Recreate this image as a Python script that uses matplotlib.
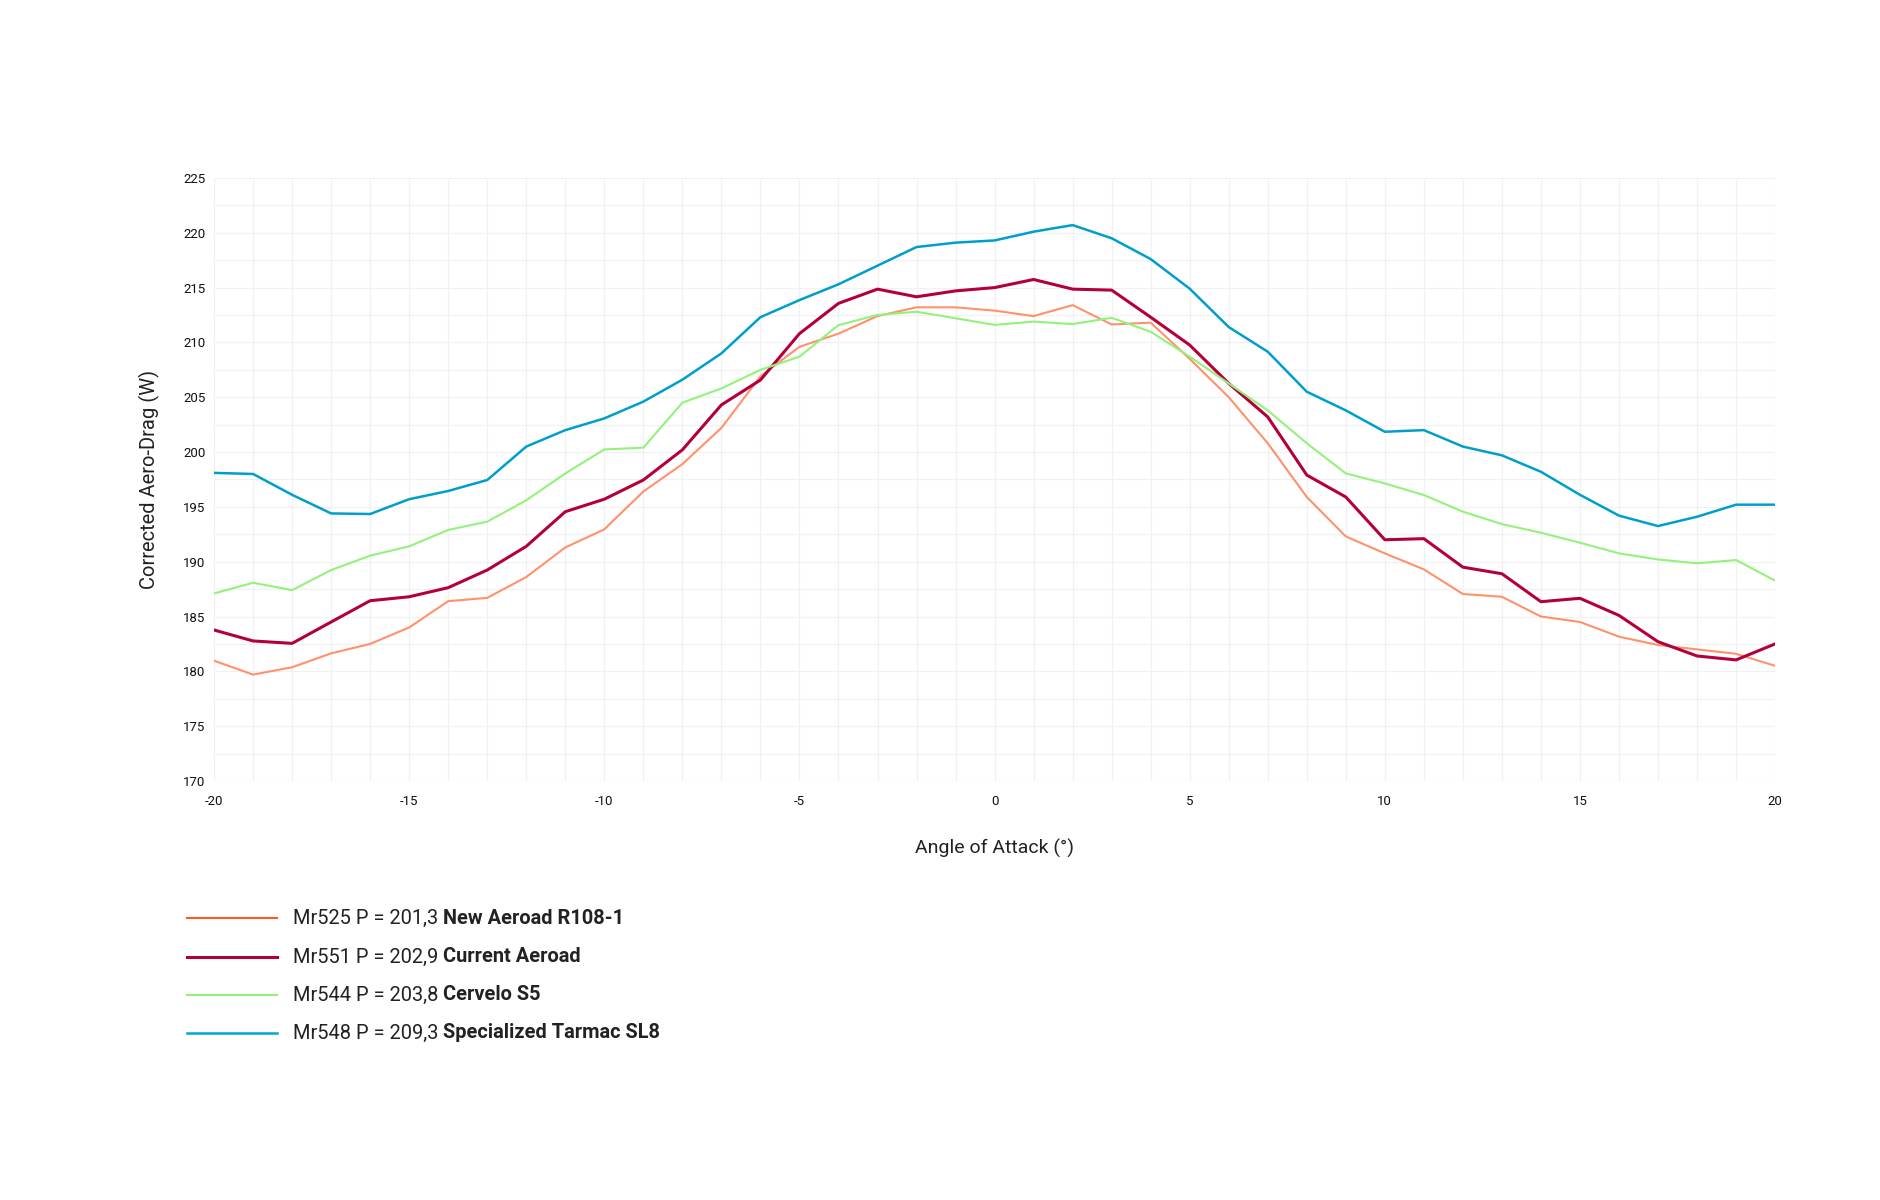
import matplotlib.pyplot as plt
from matplotlib.lines import Line2D
from matplotlib.ticker import MultipleLocator

plt.rcParams['font.family'] = ['Roboto', 'DejaVu Sans']
plt.rcParams['axes.unicode_minus'] = False

# angle of attack, one reading per degree
angles = list(range(-20, 21))

drag_r108 = [180.97, 179.7, 180.37, 181.64, 182.5, 184.0, 186.4, 186.7, 188.6, 191.3,
             192.95, 196.4, 198.9, 202.2, 206.9, 209.6, 210.8, 212.4, 213.2, 213.2,
             212.9,
             212.4, 213.4, 211.64, 211.8, 208.5, 205.0, 200.8, 195.9, 192.3, 190.76,
             189.3, 187.05, 186.8, 185.0, 184.5, 183.16, 182.4, 182.0, 181.6, 180.5]
drag_current = [183.77, 182.77, 182.55, 184.5, 186.44, 186.8, 187.63, 189.24, 191.4, 194.56,
                195.7, 197.45, 200.2, 204.3, 206.57, 210.8, 213.56, 214.86, 214.16, 214.7,
                215.0,
                215.74, 214.86, 214.77, 212.3, 209.76, 206.26, 203.2, 197.9, 195.9, 192.0,
                192.1, 189.5, 188.9, 186.35, 186.66, 185.1, 182.7, 181.4, 181.04, 182.5]
drag_s5 = [187.1, 188.08, 187.4, 189.24, 190.55, 191.4, 192.9, 193.65, 195.6, 198.05,
           200.24, 200.4, 204.5, 205.8, 207.5, 208.7, 211.58, 212.5, 212.8, 212.2,
           211.6,
           211.9, 211.67, 212.25, 210.97, 208.7, 206.26, 203.8, 200.8, 198.05, 197.14,
           196.08, 194.56, 193.43, 192.64, 191.73, 190.76, 190.2, 189.85, 190.15, 188.27]
drag_sl8 = [198.1, 198.0, 196.1, 194.4, 194.35, 195.7, 196.45, 197.45, 200.5, 202.0,
            203.07, 204.6, 206.6, 209.0, 212.3, 213.86, 215.3, 217.0, 218.7, 219.1,
            219.3,
            220.1, 220.7, 219.5, 217.6, 214.9, 211.4, 209.15, 205.5, 203.8, 201.85,
            202.0, 200.5, 199.7, 198.2, 196.1, 194.2, 193.25, 194.1, 195.2, 195.2]

series = [drag_r108, drag_current, drag_s5, drag_sl8]
legend_plain = ['Mr525 P = 201,3 ', 'Mr551 P = 202,9 ', 'Mr544 P = 203,8 ', 'Mr548 P = 209,3 ']
legend_bold = ['New Aeroad R108-1', 'Current Aeroad', 'Cervelo S5', 'Specialized Tarmac SL8']

line_colors = ['#ff916c', '#b3003b', '#92f27c', '#009fcb']
legend_colors = ['#ff5a1f', '#b0003a', '#90f07a', '#00a6d6']
widths = [1.5, 2.2, 1.5, 1.8]

fig = plt.figure(figsize=(18.81, 12), dpi=100)
ax = fig.add_axes([0.1138, 0.3492, 0.8299, 0.5025])

for vals, c, w in zip(series, line_colors, widths):
    ax.plot(angles, vals, color=c, lw=w, solid_joinstyle='round', solid_capstyle='round')

ax.set_xlim(-20, 20)
ax.set_ylim(170, 225)
ax.xaxis.set_major_locator(MultipleLocator(5))
ax.xaxis.set_minor_locator(MultipleLocator(1))
ax.yaxis.set_major_locator(MultipleLocator(5))
ax.yaxis.set_minor_locator(MultipleLocator(2.5))
ax.grid(True, which='both', color='#f1f1f1', lw=0.9)
ax.set_axisbelow(True)
for s in ax.spines.values():
    s.set_visible(False)
ax.tick_params(which='both', length=0, labelsize=9.5, colors='#111111')
ax.tick_params(axis='x', pad=10)
ax.tick_params(axis='y', pad=6)

ax.set_xlabel('Angle of Attack (°)', fontsize=14, labelpad=22, color='#222222')
ax.set_ylabel('Corrected Aero-Drag (W)', fontsize=14.5, labelpad=17, color='#222222')

# hand-made legend with a regular and a bold part on each row
renderer = fig.canvas.get_renderer()
W, H = fig.get_size_inches() * fig.dpi
row_y = [918, 957, 995, 1033]
for i in range(4):
    yf = 1 - row_y[i] / H
    fig.add_artist(Line2D([187 / W, 277 / W], [yf, yf], color=legend_colors[i],
                          lw=widths[i], transform=fig.transFigure))
    t = fig.text(293 / W, yf, legend_plain[i], fontsize=14.4, va='center', color='#222222')
    bb = t.get_window_extent(renderer)
    fig.text(bb.x1 / W, yf, legend_bold[i], fontsize=14.4, va='center',
             fontweight='bold', color='#222222')

fig.savefig('out.png', dpi=100, facecolor='white')
